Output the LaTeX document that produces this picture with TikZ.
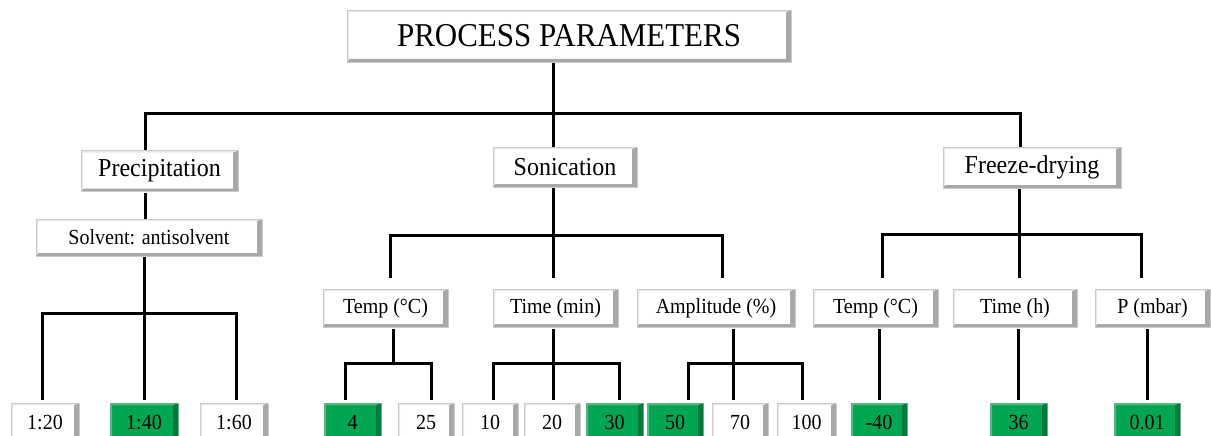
\documentclass[tikz,border=0pt]{standalone}
\usepackage{fontspec}
\setmainfont{Liberation Serif}[FakeStretch=0.93]
\definecolor{gfill}{HTML}{00A651}
\definecolor{gdark}{HTML}{007A3D}
\definecolor{glight}{HTML}{4CC47F}
\definecolor{wdark}{HTML}{A8A8A8}
\definecolor{wlight}{HTML}{E8E8E8}
\tikzset{
  bevel/.style n args={3}{fill=#1, draw=#2!60, line width=0.6pt, inner sep=0pt,
    path picture={
      \fill[#2] (path picture bounding box.north east) -- (path picture bounding box.south east)
        -- (path picture bounding box.south west) -- ([xshift=2pt,yshift=3pt]path picture bounding box.south west)
        -- ([xshift=-5pt,yshift=3pt]path picture bounding box.south east)
        -- ([xshift=-5pt,yshift=-2pt]path picture bounding box.north east) -- cycle;
      \fill[#3] (path picture bounding box.north west) -- (path picture bounding box.north east)
        -- ([xshift=-5pt,yshift=-2pt]path picture bounding box.north east)
        -- ([xshift=2pt,yshift=-2pt]path picture bounding box.north west)
        -- ([xshift=2pt,yshift=3pt]path picture bounding box.south west)
        -- (path picture bounding box.south west) -- cycle;
    }},
  wbox/.style={bevel={white}{wdark}{wlight}},
  gbox/.style={bevel={gfill}{gdark}{glight}},
  fhuge/.style={font=\fontsize{33.3}{38}\selectfont},
  fbig/.style={font=\fontsize{25.8}{30}\selectfont},
  fmid/.style={font=\fontsize{21.5}{25}\selectfont},
  lvthree/.style={wbox, fmid, minimum height=38pt},
  leaf/.style={fmid, minimum height=38pt},
  conn/.style={line width=3pt, black, line join=miter}
}
\begin{document}
\begin{tikzpicture}[x=1pt,y=-1pt]
\useasboundingbox (0,0) rectangle (1211,436);
\clip (0,0) rectangle (1211,436);
% level 1
\node[wbox, fhuge, minimum width=444pt, minimum height=52pt] (top) at (569,36) {PROCESS PARAMETERS};
% level 2
\node[wbox, fbig, minimum width=157pt, minimum height=41pt] (prec) at (159.5,171) {Precipitation};
\node[wbox, fbig, minimum width=144pt, minimum height=40pt] (son) at (565,167) {Sonication};
\node[wbox, fbig, minimum width=178pt, minimum height=41pt] (fd) at (1032,167.5) {Freeze-drying};
\node[wbox, fmid, minimum width=226pt, minimum height=37pt] (solv) at (149,237.5) {Solvent: antisolvent};
% level 3
\node[lvthree, minimum width=125pt] (t1) at (385.5,308) {Temp (°C)};
\node[lvthree, minimum width=125pt] (tm) at (555.5,308) {Time (min)};
\node[lvthree, minimum width=158pt] (amp) at (716,308) {Amplitude (\%)};
\node[lvthree, minimum width=125pt] (t2) at (875.5,308) {Temp (°C)};
\node[lvthree, minimum width=124pt] (th) at (1015,308) {Time (h)};
\node[lvthree, minimum width=115pt] (pm) at (1152.5,308) {P (mbar)};
% leaves
\node[leaf, wbox, minimum width=68pt] (b1) at (45,422) {1:20};
\node[leaf, gbox, minimum width=68pt] (b2) at (144,422) {1:40};
\node[leaf, wbox, minimum width=68pt] (b3) at (234,422) {1:60};
\node[leaf, gbox, minimum width=57pt] (s1) at (352.5,422) {4};
\node[leaf, wbox, minimum width=56pt] (s2) at (426,422) {25};
\node[leaf, wbox, minimum width=56pt] (s3) at (490,422) {10};
\node[leaf, wbox, minimum width=56pt] (s4) at (552,422) {20};
\node[leaf, gbox, minimum width=57pt] (s5) at (614.5,422) {30};
\node[leaf, gbox, minimum width=56pt] (s6) at (675,422) {50};
\node[leaf, wbox, minimum width=56pt] (s7) at (740,422) {70};
\node[leaf, wbox, minimum width=59pt] (s8) at (806.5,422) {100};
\node[leaf, gbox, minimum width=56pt] (f1) at (879,422) {-40};
\node[leaf, gbox, minimum width=57pt] (f2) at (1018.5,422) {36};
\node[leaf, gbox, minimum width=66pt] (f3) at (1147,422) {0.01};
% junction coordinates
\coordinate (j0) at (553,113);
\coordinate (bl) at (145,113);
\coordinate (br) at (1020,113);
\coordinate (pj) at (144,313);
\coordinate (sj) at (553,235);
\coordinate (sl) at (390,235);
\coordinate (sr) at (722,235);
\coordinate (tj) at (393,363);
\coordinate (tl) at (345,363);
\coordinate (tr) at (431,363);
\coordinate (mj) at (553,363);
\coordinate (ml) at (493,363);
\coordinate (mr) at (619,363);
\coordinate (aj) at (733,363);
\coordinate (al) at (688,363);
\coordinate (ar) at (802,363);
\coordinate (fj) at (1019,234);
\coordinate (fl) at (882,234);
\coordinate (fr) at (1141,234);
% connectors
\draw[conn, shorten <=1pt] (top.south -| j0) -- (j0);
\draw[conn] (prec.north -| bl) -- (bl) -- (br) -- (fd.north -| br);
\draw[conn] (j0) -- (son.north -| j0);
\draw[conn, shorten <=1pt] (prec.south -| bl) -- (solv.north -| bl);
% precipitation leaves
\draw[conn, shorten <=1pt] (solv.south -| pj) -- (pj);
\draw[conn, shorten <=3pt, shorten >=3pt] (b1.north -| 42,0) -- (42,313) -- (236,313) -- (b3.north -| 236,0);
\draw[conn, shorten >=3pt] (pj) -- (b2.north -| pj);
% sonication
\draw[conn, shorten <=1pt] (son.south -| sj) -- (sj);
\draw[conn, shorten <=11pt, shorten >=11pt] (t1.north -| sl) -- (sl) -- (sr) -- (amp.north -| sr);
\draw[conn, shorten >=11pt] (sj) -- (tm.north -| sj);
\draw[conn, shorten <=2pt] (t1.south -| tj) -- (tj);
\draw[conn, shorten <=3pt, shorten >=3pt] (s1.north -| tl) -- (tl) -- (tr) -- (s2.north -| tr);
\draw[conn, shorten <=2pt] (tm.south -| mj) -- (mj);
\draw[conn, shorten <=3pt, shorten >=3pt] (s3.north -| ml) -- (ml) -- (mr) -- (s5.north -| mr);
\draw[conn, shorten >=3pt] (mj) -- (s4.north -| mj);
\draw[conn, shorten <=2pt] (amp.south -| aj) -- (aj);
\draw[conn, shorten <=3pt, shorten >=3pt] (s6.north -| al) -- (al) -- (ar) -- (s8.north -| ar);
\draw[conn, shorten >=3pt] (aj) -- (s7.north -| aj);
% freeze-drying
\draw[conn, shorten <=1pt] (fd.south -| fj) -- (fj);
\draw[conn, shorten <=11pt, shorten >=11pt] (t2.north -| fl) -- (fl) -- (fr) -- (pm.north -| fr);
\draw[conn, shorten >=11pt] (fj) -- (th.north -| fj);
\draw[conn, shorten <=2pt, shorten >=3pt] (f1.north |- t2.south) -- (f1.north);
\draw[conn, shorten <=2pt, shorten >=3pt] (f2.north |- th.south) -- (f2.north);
\draw[conn, shorten <=2pt, shorten >=3pt] (f3.north |- pm.south) -- (f3.north);
\end{tikzpicture}
\end{document}
